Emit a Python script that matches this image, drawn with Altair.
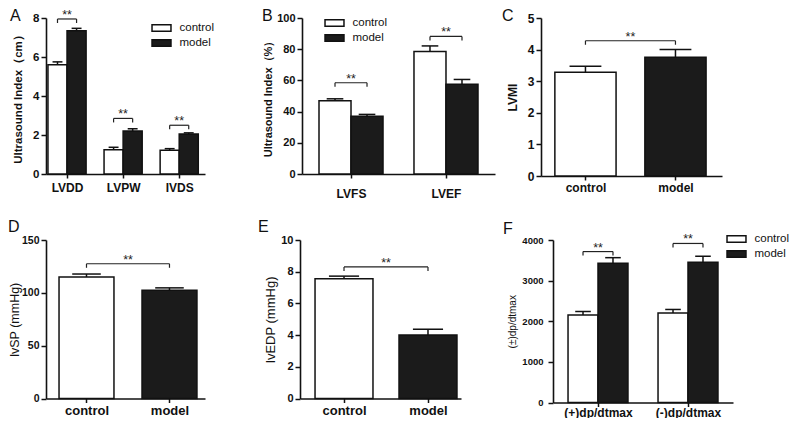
import json
import altair as alt
import pandas as pd

FONT = "Liberation Sans"
INK = "#111111"
DARK = "#1b1b1b"
GROUPS = ["control", "model"]

# ---------------- data ----------------
A_categories = ["LVDD", "LVPW", "IVDS"]
A_control = [5.6, 1.25, 1.22]
A_control_err = [0.15, 0.12, 0.08]
A_model = [7.35, 2.2, 2.05]
A_model_err = [0.12, 0.12, 0.06]
A_bracket = [7.95, 2.85, 2.5]

B_categories = ["LVFS", "LVEF"]
B_control = [47.0, 78.5]
B_control_err = [1.2, 3.6]
B_model = [37.0, 57.5]
B_model_err = [1.2, 3.1]
B_bracket = [58.5, 88.2]

C_values = [3.28, 3.76]
C_err = [0.19, 0.24]
C_bracket = 4.28

D_values = [115.0, 102.5]
D_err = [2.8, 2.2]
D_bracket = 127.5

E_values = [7.55, 4.0]
E_err = [0.17, 0.37]
E_bracket = 8.3

F_categories = ["(+)dp/dtmax", "(-)dp/dtmax"]
F_control = [2155, 2205]
F_control_err = [85, 85]
F_model = [3430, 3450]
F_model_err = [135, 150]
F_bracket = [3715, 3915]


def grouped_rows(cats, ctrl, ctrl_err, model, model_err, brackets, hw):
    bars, errs, brs = [], [], []
    for i, _ in enumerate(cats):
        for g, val, err, a, b in (("control", ctrl[i], ctrl_err[i], i - hw, i),
                                  ("model", model[i], model_err[i], i, i + hw)):
            c = (a + b) / 2
            bars.append(dict(group=g, x0=a, x1=b, value=val, zero=0))
            errs.append(dict(xc=c, value=val, top=val + err,
                             capl=c - (b - a) * 0.26, capr=c + (b - a) * 0.26))
        brs.append(dict(bx1=i - hw / 2, bx2=i + hw / 2, mid=i, by=brackets[i]))
    return bars, errs, brs


def single_rows(values, errs_in, bracket, hw):
    bars, errs = [], []
    for i, g in enumerate(GROUPS):
        a, b = i - hw, i + hw
        bars.append(dict(group=g, x0=a, x1=b, value=values[i], zero=0))
        errs.append(dict(xc=i, value=values[i], top=values[i] + errs_in[i],
                         capl=i - (b - a) * 0.26, capr=i + (b - a) * 0.26))
    brs = [dict(bx1=0, bx2=1, mid=0.5, by=bracket)]
    return bars, errs, brs


def legend_params(lx, ly):
    return alt.Legend(orient="none", legendX=lx, legendY=ly, title=None,
                      direction="vertical",
                      symbolType="M-1.58,-0.55H1.58V0.55H-1.58Z", symbolSize=144,
                      symbolStrokeColor=INK, symbolStrokeWidth=1.5, symbolOpacity=1,
                      labelFont=FONT, labelFontSize=11.5, labelColor=INK,
                      labelOffset=11, rowPadding=1, padding=0)


def panel(rows, *, letter, ldx, ldy, width, height, xdomain, xcats, xlab, xpad,
          yticks, ytitle, tsize, tweight, tpad, ylab, ypad, legend=None):
    bars, errs, brs = rows
    ymax = yticks[-1]
    leg = 4.0 / height * ymax
    legs = []
    for r in brs:
        for x in (r["bx1"], r["bx2"]):
            legs.append(dict(lx=x, ly1=r["by"], ly2=r["by"] - leg))

    xscale = alt.Scale(domain=xdomain, nice=False, zero=False)
    yscale = alt.Scale(domain=[0, ymax], nice=False, zero=True)
    xaxis = alt.Axis(values=list(range(len(xcats))),
                     labelExpr=f"{json.dumps(xcats)}[datum.value]",
                     title=None, labelFontSize=xlab, labelPadding=xpad, tickSize=4,
                     labelOverlap=False, labelFlush=False, labelBound=False)
    yaxis = alt.Axis(values=yticks, format="d", title=ytitle, titleFontSize=tsize,
                     titleFontWeight=tweight, titlePadding=tpad, labelFontSize=ylab,
                     labelPadding=ypad, tickSize=5, labelOverlap=False)

    def X(f):
        return alt.X(f"{f}:Q", scale=xscale, axis=xaxis)

    def Y(f):
        return alt.Y(f"{f}:Q", scale=yscale, axis=yaxis)

    base_bars = alt.Chart(pd.DataFrame(bars)).mark_bar(stroke=INK, strokeWidth=1.5).encode(
        x=X("x0"), x2="x1", y=Y("value"), y2="zero",
        color=alt.Color("group:N", scale=alt.Scale(domain=GROUPS, range=["#ffffff", DARK]),
                        legend=legend))
    df_err = pd.DataFrame(errs)
    err_line = alt.Chart(df_err).mark_rule(color=INK, strokeWidth=1.5).encode(
        x=X("xc"), y=Y("value"), y2="top")
    caps = alt.Chart(df_err).mark_rule(color=INK, strokeWidth=1.5).encode(
        x=X("capl"), x2="capr", y=Y("top"))
    df_br = pd.DataFrame(brs)
    br_h = alt.Chart(df_br).mark_rule(color="#222222", strokeWidth=1.2).encode(
        x=X("bx1"), x2="bx2", y=Y("by"))
    br_v = alt.Chart(pd.DataFrame(legs)).mark_rule(color="#222222", strokeWidth=1.2).encode(
        x=X("lx"), y=Y("ly1"), y2="ly2")
    stars = alt.Chart(df_br).mark_text(text="**", fontSize=12.5, font=FONT, baseline="alphabetic",
                                       dy=0, color="#222222").encode(x=X("mid"), y=Y("by"))
    tag = alt.Chart(pd.DataFrame([dict(lx=xdomain[0], ly=ymax, t=letter)])).mark_text(
        fontSize=16, font=FONT, align="left", baseline="alphabetic", dx=ldx, dy=ldy, color=INK
    ).encode(x=X("lx"), y=Y("ly"), text="t:N")
    return alt.layer(base_bars, err_line, caps, br_h, br_v, stars, tag).properties(
        width=width, height=height)


pA = panel(grouped_rows(A_categories, A_control, A_control_err, A_model, A_model_err, A_bracket, 0.34),
           letter="A", ldx=-36, ldy=3, width=159, height=156, xdomain=[-0.375, 2.46],
           xcats=A_categories, xlab=12, xpad=4, yticks=[0, 2, 4, 6, 8],
           ytitle="Ultrasound Index（cm）", tsize=11.5, tweight="bold", tpad=9, ylab=11.5, ypad=2,
           legend=legend_params(108.5, 3))
pB = panel(grouped_rows(B_categories, B_control, B_control_err, B_model, B_model_err, B_bracket, 0.337),
           letter="B", ldx=-40, ldy=3, width=193, height=156, xdomain=[-0.516, 1.516],
           xcats=B_categories, xlab=12, xpad=10, yticks=[0, 20, 40, 60, 80, 100],
           ytitle="Ultrasound Index（%）", tsize=11, tweight="bold", tpad=3, ylab=11, ypad=2,
           legend=legend_params(25.5, -2))
pC = panel(single_rows(C_values, C_err, C_bracket, 0.34),
           letter="C", ldx=-39, ldy=3, width=181, height=158, xdomain=[-0.494, 1.517],
           xcats=GROUPS, xlab=12, xpad=2, yticks=[0, 1, 2, 3, 4, 5],
           ytitle="LVMI", tsize=12, tweight="bold", tpad=8, ylab=12, ypad=2)
pD = panel(single_rows(D_values, D_err, D_bracket, 0.331),
           letter="D", ldx=-38, ldy=-8.5, width=159, height=158.5, xdomain=[-0.488, 1.428],
           xcats=GROUPS, xlab=13, xpad=1.5, yticks=[0, 50, 100, 150],
           ytitle="lvSP (mmHg)", tsize=12.5, tweight="normal", tpad=0, ylab=10.5, ypad=2)
pE = panel(single_rows(E_values, E_err, E_bracket, 0.345),
           letter="E", ldx=-42, ldy=-8.5, width=161, height=158.5, xdomain=[-0.524, 1.393],
           xcats=GROUPS, xlab=13, xpad=1.5, yticks=[0, 2, 4, 6, 8, 10],
           ytitle="lvEDP (mmHg)", tsize=13, tweight="normal", tpad=3, ylab=11, ypad=2)
pF = panel(grouped_rows(F_categories, F_control, F_control_err, F_model, F_model_err, F_bracket, 0.333),
           letter="F", ldx=-50, ldy=-6.5, width=180, height=162.5, xdomain=[-0.5, 1.5],
           xcats=F_categories, xlab=12, xpad=0.5, yticks=[0, 1000, 2000, 3000, 4000],
           ytitle="(±)dp/dtmax", tsize=10, tweight="normal", tpad=4, ylab=9.5, ypad=5,
           legend=legend_params(176.5, -8))


def indep(c):
    return c.resolve_scale(x="independent", y="independent", color="independent").resolve_legend(
        color="independent")


row1 = indep(alt.hconcat(indep(alt.hconcat(pA, pB, spacing=47)), pC, spacing=7))
row2 = indep(alt.hconcat(indep(alt.hconcat(pD, pE, spacing=53)), pF, spacing=42))

chart = indep(alt.vconcat(row1, row2, spacing=19)).properties(
    padding={"left": 0, "top": 0, "right": 0, "bottom": 0}, background="white"
).configure_view(stroke=None).configure_axis(
    domainColor=INK, domainWidth=1.6, tickColor=INK, tickWidth=1.5,
    labelColor=INK, labelFont=FONT, labelFontWeight="bold",
    titleColor=INK, titleFont=FONT, grid=False
)

chart.save("out.html", embed_options={"renderer": "svg", "actions": False})
